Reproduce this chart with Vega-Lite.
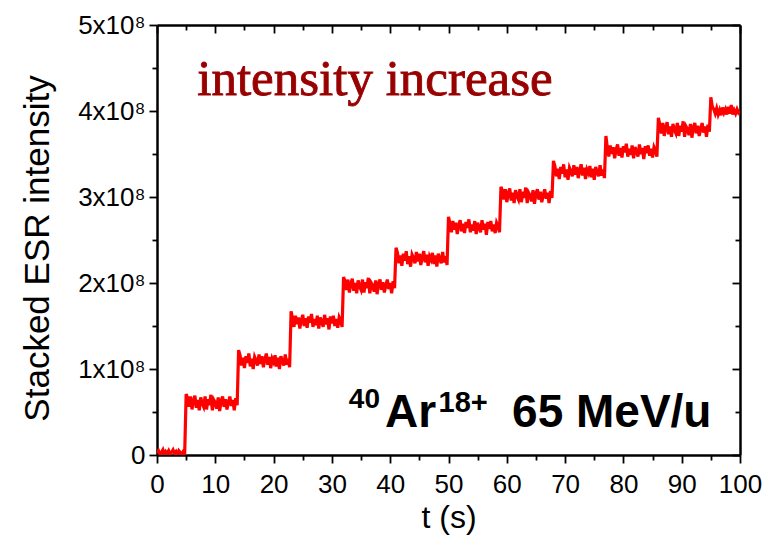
{
"$schema":"https://vega.github.io/schema/vega-lite/v6.json",
"width":583,"height":430,
"autosize":"none",
"padding":{"left":157,"top":25,"right":30,"bottom":84},
"background":"white",
"config":{"view":{"stroke":null},"font":"Liberation Sans"},
"data":{"values":[
{"t":0,"esr":0.02},{"t":0.25,"esr":0.05},{"t":0.5,"esr":0.01},{"t":0.75,"esr":0.03},{"t":1,"esr":0.06},{"t":1.25,"esr":0},{"t":1.5,"esr":0.04},{"t":1.75,"esr":0.02},{"t":2,"esr":0.05},{"t":2.25,"esr":0.01},{"t":2.5,"esr":0.03},{"t":2.75,"esr":0.06},{"t":3,"esr":0.02},{"t":3.25,"esr":0.04},{"t":3.5,"esr":0},{"t":3.75,"esr":0.05},{"t":4,"esr":0.03},{"t":4.25,"esr":0.01},{"t":4.5,"esr":0.04},{"t":4.75,"esr":0.02},
{"t":5,"esr":0.71},{"t":5.25,"esr":0.66},{"t":5.5,"esr":0.56},{"t":5.75,"esr":0.68},{"t":6,"esr":0.53},{"t":6.25,"esr":0.63},{"t":6.5,"esr":0.69},{"t":6.75,"esr":0.55},{"t":7,"esr":0.64},{"t":7.25,"esr":0.52},{"t":7.5,"esr":0.67},{"t":7.75,"esr":0.60},{"t":8,"esr":0.56},{"t":8.25,"esr":0.68},{"t":8.5,"esr":0.53},{"t":8.75,"esr":0.65},{"t":9,"esr":0.58},{"t":9.25,"esr":0.70},{"t":9.5,"esr":0.52},{"t":9.75,"esr":0.64},{"t":10,"esr":0.61},{"t":10.25,"esr":0.54},{"t":10.5,"esr":0.67},{"t":10.75,"esr":0.51},{"t":11,"esr":0.63},{"t":11.25,"esr":0.68},{"t":11.5,"esr":0.56},{"t":11.75,"esr":0.65},{"t":12,"esr":0.53},{"t":12.25,"esr":0.61},{"t":12.5,"esr":0.68},{"t":12.75,"esr":0.57},{"t":13,"esr":0.64},{"t":13.25,"esr":0.52},{"t":13.5,"esr":0.66},{"t":13.75,"esr":0.58},
{"t":14,"esr":1.22},{"t":14.25,"esr":1.16},{"t":14.5,"esr":1.04},{"t":14.75,"esr":1.13},{"t":15,"esr":1.01},{"t":15.25,"esr":1.15},{"t":15.5,"esr":1.07},{"t":15.75,"esr":1.18},{"t":16,"esr":1.03},{"t":16.25,"esr":1.12},{"t":16.5,"esr":1.00},{"t":16.75,"esr":1.14},{"t":17,"esr":1.10},{"t":17.25,"esr":1.04},{"t":17.5,"esr":1.17},{"t":17.75,"esr":1.06},{"t":18,"esr":1.15},{"t":18.25,"esr":1.02},{"t":18.5,"esr":1.11},{"t":18.75,"esr":1.18},{"t":19,"esr":1.05},{"t":19.25,"esr":1.14},{"t":19.5,"esr":1.01},{"t":19.75,"esr":1.12},{"t":20,"esr":1.08},{"t":20.25,"esr":1.16},{"t":20.5,"esr":1.03},{"t":20.75,"esr":1.13},{"t":21,"esr":1.00},{"t":21.25,"esr":1.15},{"t":21.5,"esr":1.09},{"t":21.75,"esr":1.04},{"t":22,"esr":1.17},{"t":22.25,"esr":1.05},{"t":22.5,"esr":1.12},{"t":22.75,"esr":1.02},
{"t":23,"esr":1.67},{"t":23.25,"esr":1.59},{"t":23.5,"esr":1.49},{"t":23.75,"esr":1.62},{"t":24,"esr":1.52},{"t":24.25,"esr":1.60},{"t":24.5,"esr":1.47},{"t":24.75,"esr":1.57},{"t":25,"esr":1.63},{"t":25.25,"esr":1.50},{"t":25.5,"esr":1.59},{"t":25.75,"esr":1.48},{"t":26,"esr":1.61},{"t":26.25,"esr":1.54},{"t":26.5,"esr":1.64},{"t":26.75,"esr":1.49},{"t":27,"esr":1.58},{"t":27.25,"esr":1.51},{"t":27.5,"esr":1.62},{"t":27.75,"esr":1.47},{"t":28,"esr":1.60},{"t":28.25,"esr":1.55},{"t":28.5,"esr":1.49},{"t":28.75,"esr":1.63},{"t":29,"esr":1.52},{"t":29.25,"esr":1.59},{"t":29.5,"esr":1.46},{"t":29.75,"esr":1.61},{"t":30,"esr":1.53},{"t":30.25,"esr":1.62},{"t":30.5,"esr":1.50},{"t":30.75,"esr":1.58},{"t":31,"esr":1.48},{"t":31.25,"esr":1.60},{"t":31.5,"esr":1.56},{"t":31.75,"esr":1.49},
{"t":32,"esr":2.07},{"t":32.25,"esr":2.02},{"t":32.5,"esr":1.92},{"t":32.75,"esr":2.04},{"t":33,"esr":1.89},{"t":33.25,"esr":1.99},{"t":33.5,"esr":2.05},{"t":33.75,"esr":1.91},{"t":34,"esr":2.00},{"t":34.25,"esr":1.88},{"t":34.5,"esr":2.03},{"t":34.75,"esr":1.96},{"t":35,"esr":1.92},{"t":35.25,"esr":2.04},{"t":35.5,"esr":1.89},{"t":35.75,"esr":2.01},{"t":36,"esr":1.94},{"t":36.25,"esr":2.06},{"t":36.5,"esr":1.88},{"t":36.75,"esr":2.00},{"t":37,"esr":1.97},{"t":37.25,"esr":1.90},{"t":37.5,"esr":2.03},{"t":37.75,"esr":1.87},{"t":38,"esr":1.99},{"t":38.25,"esr":2.04},{"t":38.5,"esr":1.92},{"t":38.75,"esr":2.01},{"t":39,"esr":1.89},{"t":39.25,"esr":1.97},{"t":39.5,"esr":2.04},{"t":39.75,"esr":1.93},{"t":40,"esr":2.00},{"t":40.25,"esr":1.88},{"t":40.5,"esr":2.02},{"t":40.75,"esr":1.94},
{"t":41,"esr":2.41},{"t":41.25,"esr":2.35},{"t":41.5,"esr":2.23},{"t":41.75,"esr":2.32},{"t":42,"esr":2.20},{"t":42.25,"esr":2.34},{"t":42.5,"esr":2.26},{"t":42.75,"esr":2.37},{"t":43,"esr":2.22},{"t":43.25,"esr":2.31},{"t":43.5,"esr":2.19},{"t":43.75,"esr":2.33},{"t":44,"esr":2.29},{"t":44.25,"esr":2.23},{"t":44.5,"esr":2.36},{"t":44.75,"esr":2.25},{"t":45,"esr":2.34},{"t":45.25,"esr":2.21},{"t":45.5,"esr":2.30},{"t":45.75,"esr":2.37},{"t":46,"esr":2.24},{"t":46.25,"esr":2.33},{"t":46.5,"esr":2.20},{"t":46.75,"esr":2.31},{"t":47,"esr":2.27},{"t":47.25,"esr":2.35},{"t":47.5,"esr":2.22},{"t":47.75,"esr":2.32},{"t":48,"esr":2.19},{"t":48.25,"esr":2.34},{"t":48.5,"esr":2.28},{"t":48.75,"esr":2.23},{"t":49,"esr":2.36},{"t":49.25,"esr":2.24},{"t":49.5,"esr":2.31},{"t":49.75,"esr":2.21},
{"t":50,"esr":2.77},{"t":50.25,"esr":2.69},{"t":50.5,"esr":2.59},{"t":50.75,"esr":2.72},{"t":51,"esr":2.62},{"t":51.25,"esr":2.70},{"t":51.5,"esr":2.57},{"t":51.75,"esr":2.67},{"t":52,"esr":2.73},{"t":52.25,"esr":2.60},{"t":52.5,"esr":2.69},{"t":52.75,"esr":2.58},{"t":53,"esr":2.71},{"t":53.25,"esr":2.64},{"t":53.5,"esr":2.74},{"t":53.75,"esr":2.59},{"t":54,"esr":2.68},{"t":54.25,"esr":2.61},{"t":54.5,"esr":2.72},{"t":54.75,"esr":2.57},{"t":55,"esr":2.70},{"t":55.25,"esr":2.65},{"t":55.5,"esr":2.59},{"t":55.75,"esr":2.73},{"t":56,"esr":2.62},{"t":56.25,"esr":2.69},{"t":56.5,"esr":2.56},{"t":56.75,"esr":2.71},{"t":57,"esr":2.63},{"t":57.25,"esr":2.72},{"t":57.5,"esr":2.60},{"t":57.75,"esr":2.68},{"t":58,"esr":2.58},{"t":58.25,"esr":2.70},{"t":58.5,"esr":2.66},{"t":58.75,"esr":2.59},
{"t":59,"esr":3.12},{"t":59.25,"esr":3.07},{"t":59.5,"esr":2.97},{"t":59.75,"esr":3.09},{"t":60,"esr":2.94},{"t":60.25,"esr":3.04},{"t":60.5,"esr":3.10},{"t":60.75,"esr":2.96},{"t":61,"esr":3.05},{"t":61.25,"esr":2.93},{"t":61.5,"esr":3.08},{"t":61.75,"esr":3.01},{"t":62,"esr":2.97},{"t":62.25,"esr":3.09},{"t":62.5,"esr":2.94},{"t":62.75,"esr":3.06},{"t":63,"esr":2.99},{"t":63.25,"esr":3.11},{"t":63.5,"esr":2.93},{"t":63.75,"esr":3.05},{"t":64,"esr":3.02},{"t":64.25,"esr":2.95},{"t":64.5,"esr":3.08},{"t":64.75,"esr":2.92},{"t":65,"esr":3.04},{"t":65.25,"esr":3.09},{"t":65.5,"esr":2.97},{"t":65.75,"esr":3.06},{"t":66,"esr":2.94},{"t":66.25,"esr":3.02},{"t":66.5,"esr":3.09},{"t":66.75,"esr":2.98},{"t":67,"esr":3.05},{"t":67.25,"esr":2.93},{"t":67.5,"esr":3.07},{"t":67.75,"esr":2.99},
{"t":68,"esr":3.42},{"t":68.25,"esr":3.36},{"t":68.5,"esr":3.24},{"t":68.75,"esr":3.33},{"t":69,"esr":3.21},{"t":69.25,"esr":3.35},{"t":69.5,"esr":3.27},{"t":69.75,"esr":3.38},{"t":70,"esr":3.23},{"t":70.25,"esr":3.32},{"t":70.5,"esr":3.20},{"t":70.75,"esr":3.34},{"t":71,"esr":3.30},{"t":71.25,"esr":3.24},{"t":71.5,"esr":3.37},{"t":71.75,"esr":3.26},{"t":72,"esr":3.35},{"t":72.25,"esr":3.22},{"t":72.5,"esr":3.31},{"t":72.75,"esr":3.38},{"t":73,"esr":3.25},{"t":73.25,"esr":3.34},{"t":73.5,"esr":3.21},{"t":73.75,"esr":3.32},{"t":74,"esr":3.28},{"t":74.25,"esr":3.36},{"t":74.5,"esr":3.23},{"t":74.75,"esr":3.33},{"t":75,"esr":3.20},{"t":75.25,"esr":3.35},{"t":75.5,"esr":3.29},{"t":75.75,"esr":3.24},{"t":76,"esr":3.37},{"t":76.25,"esr":3.25},{"t":76.5,"esr":3.32},{"t":76.75,"esr":3.22},
{"t":77,"esr":3.71},{"t":77.25,"esr":3.57},{"t":77.5,"esr":3.47},{"t":77.75,"esr":3.60},{"t":78,"esr":3.50},{"t":78.25,"esr":3.58},{"t":78.5,"esr":3.45},{"t":78.75,"esr":3.55},{"t":79,"esr":3.61},{"t":79.25,"esr":3.48},{"t":79.5,"esr":3.57},{"t":79.75,"esr":3.46},{"t":80,"esr":3.59},{"t":80.25,"esr":3.52},{"t":80.5,"esr":3.62},{"t":80.75,"esr":3.47},{"t":81,"esr":3.56},{"t":81.25,"esr":3.49},{"t":81.5,"esr":3.60},{"t":81.75,"esr":3.45},{"t":82,"esr":3.58},{"t":82.25,"esr":3.53},{"t":82.5,"esr":3.47},{"t":82.75,"esr":3.61},{"t":83,"esr":3.50},{"t":83.25,"esr":3.57},{"t":83.5,"esr":3.44},{"t":83.75,"esr":3.59},{"t":84,"esr":3.51},{"t":84.25,"esr":3.60},{"t":84.5,"esr":3.48},{"t":84.75,"esr":3.56},{"t":85,"esr":3.46},{"t":85.25,"esr":3.58},{"t":85.5,"esr":3.54},{"t":85.75,"esr":3.47},
{"t":86,"esr":3.92},{"t":86.25,"esr":3.84},{"t":86.5,"esr":3.74},{"t":86.75,"esr":3.86},{"t":87,"esr":3.71},{"t":87.25,"esr":3.81},{"t":87.5,"esr":3.87},{"t":87.75,"esr":3.73},{"t":88,"esr":3.82},{"t":88.25,"esr":3.70},{"t":88.5,"esr":3.85},{"t":88.75,"esr":3.78},{"t":89,"esr":3.74},{"t":89.25,"esr":3.86},{"t":89.5,"esr":3.71},{"t":89.75,"esr":3.83},{"t":90,"esr":3.76},{"t":90.25,"esr":3.88},{"t":90.5,"esr":3.70},{"t":90.75,"esr":3.82},{"t":91,"esr":3.79},{"t":91.25,"esr":3.72},{"t":91.5,"esr":3.85},{"t":91.75,"esr":3.69},{"t":92,"esr":3.81},{"t":92.25,"esr":3.86},{"t":92.5,"esr":3.74},{"t":92.75,"esr":3.83},{"t":93,"esr":3.71},{"t":93.25,"esr":3.79},{"t":93.5,"esr":3.86},{"t":93.75,"esr":3.75},{"t":94,"esr":3.82},{"t":94.25,"esr":3.70},{"t":94.5,"esr":3.84},{"t":94.75,"esr":3.76},
{"t":95,"esr":4.16},{"t":95.25,"esr":4.05},{"t":95.5,"esr":4.02},{"t":95.75,"esr":3.97},{"t":96,"esr":4.03},{"t":96.25,"esr":3.96},{"t":96.5,"esr":4.01},{"t":96.75,"esr":3.95},{"t":97,"esr":4.04},{"t":97.25,"esr":3.98},{"t":97.5,"esr":4.02},{"t":97.75,"esr":3.96},{"t":98,"esr":4.05},{"t":98.25,"esr":3.97},{"t":98.5,"esr":4.07},{"t":98.75,"esr":3.96},{"t":99,"esr":4.01},{"t":99.25,"esr":3.97},{"t":99.5,"esr":4.02},{"t":99.75,"esr":3.98},{"t":100,"esr":4.00}
]},
"layer":[
{"mark":{"type":"line","color":"#ff0000","strokeWidth":3.2,"strokeJoin":"miter","clip":true},
 "encoding":{
  "x":{"field":"t","type":"quantitative","scale":{"domain":[0,100],"nice":false,"zero":false},
   "axis":{"orient":"bottom","values":[0,10,20,30,40,50,60,70,80,90,100],"grid":false,"domainColor":"#000","domainWidth":2.5,"tickColor":"#000","tickWidth":1.8,"tickSize":8,"labelFont":"Liberation Sans","labelFontSize":26,"labelColor":"#000","labelPadding":8,"labelFlush":false,"labelOverlap":false,"title":"t (s)","titleFont":"Liberation Sans","titleFontSize":32,"titleFontWeight":"normal","titleColor":"#000","titlePadding":5}},
  "y":{"field":"esr","type":"quantitative","scale":{"domain":[0,5],"nice":false,"zero":false},
   "axis":{"orient":"left","values":[0,1,2,3,4,5],"grid":false,"domainColor":"#000","domainWidth":2.5,"tickColor":"#000","tickWidth":1.8,"tickSize":8,"labelFont":"Liberation Sans","labelFontSize":26,"labelColor":"#000","labelPadding":4,"labelFlush":false,"labelOverlap":false,"labelExpr":"datum.value == 0 ? '0' : datum.value + 'x10⁸'","title":"Stacked ESR intensity","titleFont":"Liberation Sans","titleFontSize":35,"titleFontWeight":"normal","titleColor":"#000","titlePadding":22,"titleY":223}}
 }},
{"mark":{"type":"point","opacity":0},
 "encoding":{
  "x":{"field":"t","type":"quantitative","axis":{"orient":"bottom","values":[5,15,25,35,45,55,65,75,85,95],"grid":false,"domain":false,"labels":false,"title":null,"tickColor":"#000","tickWidth":1.8,"tickSize":5}},
  "y":{"field":"esr","type":"quantitative","axis":{"orient":"left","values":[0.5,1.5,2.5,3.5,4.5],"grid":false,"domain":false,"labels":false,"title":null,"tickColor":"#000","tickWidth":1.8,"tickSize":5}}
 }},
{"mark":{"type":"point","opacity":0},
 "encoding":{
  "x":{"field":"t","type":"quantitative","axis":{"orient":"top","values":[0,10,20,30,40,50,60,70,80,90,100],"grid":false,"domainColor":"#000","domainWidth":2.5,"labels":false,"title":null,"tickColor":"#000","tickWidth":1.8,"tickSize":-8}},
  "y":{"field":"esr","type":"quantitative","axis":{"orient":"right","values":[0,1,2,3,4,5],"grid":false,"domainColor":"#000","domainWidth":2.5,"labels":false,"title":null,"tickColor":"#000","tickWidth":1.8,"tickSize":-8}}
 }},
{"mark":{"type":"point","opacity":0},
 "encoding":{
  "x":{"field":"t","type":"quantitative","axis":{"orient":"top","values":[5,15,25,35,45,55,65,75,85,95],"grid":false,"domain":false,"labels":false,"title":null,"tickColor":"#000","tickWidth":1.8,"tickSize":-5}},
  "y":{"field":"esr","type":"quantitative","axis":{"orient":"right","values":[0.5,1.5,2.5,3.5,4.5],"grid":false,"domain":false,"labels":false,"title":null,"tickColor":"#000","tickWidth":1.8,"tickSize":-5}}
 }},
{"data":{"values":[{"label":"intensity increase"}]},
 "mark":{"type":"text","font":"Liberation Serif","fontWeight":"normal","fontSize":51,"color":"#990000","stroke":"#990000","strokeWidth":0.9,"align":"left","baseline":"alphabetic"},
 "encoding":{"x":{"datum":6.9,"type":"quantitative","axis":null},"y":{"datum":4.186,"type":"quantitative","axis":null},"text":{"field":"label"}}},
{"data":{"values":[{"label":"40"}]},
 "mark":{"type":"text","font":"Liberation Sans","fontWeight":"bold","fontSize":28,"color":"#000","align":"left","baseline":"alphabetic"},
 "encoding":{"x":{"datum":32.9,"type":"quantitative","axis":null},"y":{"datum":0.547,"type":"quantitative","axis":null},"text":{"field":"label"}}},
{"data":{"values":[{"label":"Ar"}]},
 "mark":{"type":"text","font":"Liberation Sans","fontWeight":"bold","fontSize":46,"color":"#000","align":"left","baseline":"alphabetic"},
 "encoding":{"x":{"datum":39.1,"type":"quantitative","axis":null},"y":{"datum":0.326,"type":"quantitative","axis":null},"text":{"field":"label"}}},
{"data":{"values":[{"label":"18+"}]},
 "mark":{"type":"text","font":"Liberation Sans","fontWeight":"bold","fontSize":29,"color":"#000","align":"left","baseline":"alphabetic"},
 "encoding":{"x":{"datum":48.3,"type":"quantitative","axis":null},"y":{"datum":0.5,"type":"quantitative","axis":null},"text":{"field":"label"}}},
{"data":{"values":[{"label":"65 MeV/u"}]},
 "mark":{"type":"text","font":"Liberation Sans","fontWeight":"bold","fontSize":46,"color":"#000","align":"left","baseline":"alphabetic"},
 "encoding":{"x":{"datum":60.9,"type":"quantitative","axis":null},"y":{"datum":0.326,"type":"quantitative","axis":null},"text":{"field":"label"}}}
],
"resolve":{"axis":{"x":"independent","y":"independent"}}
}
